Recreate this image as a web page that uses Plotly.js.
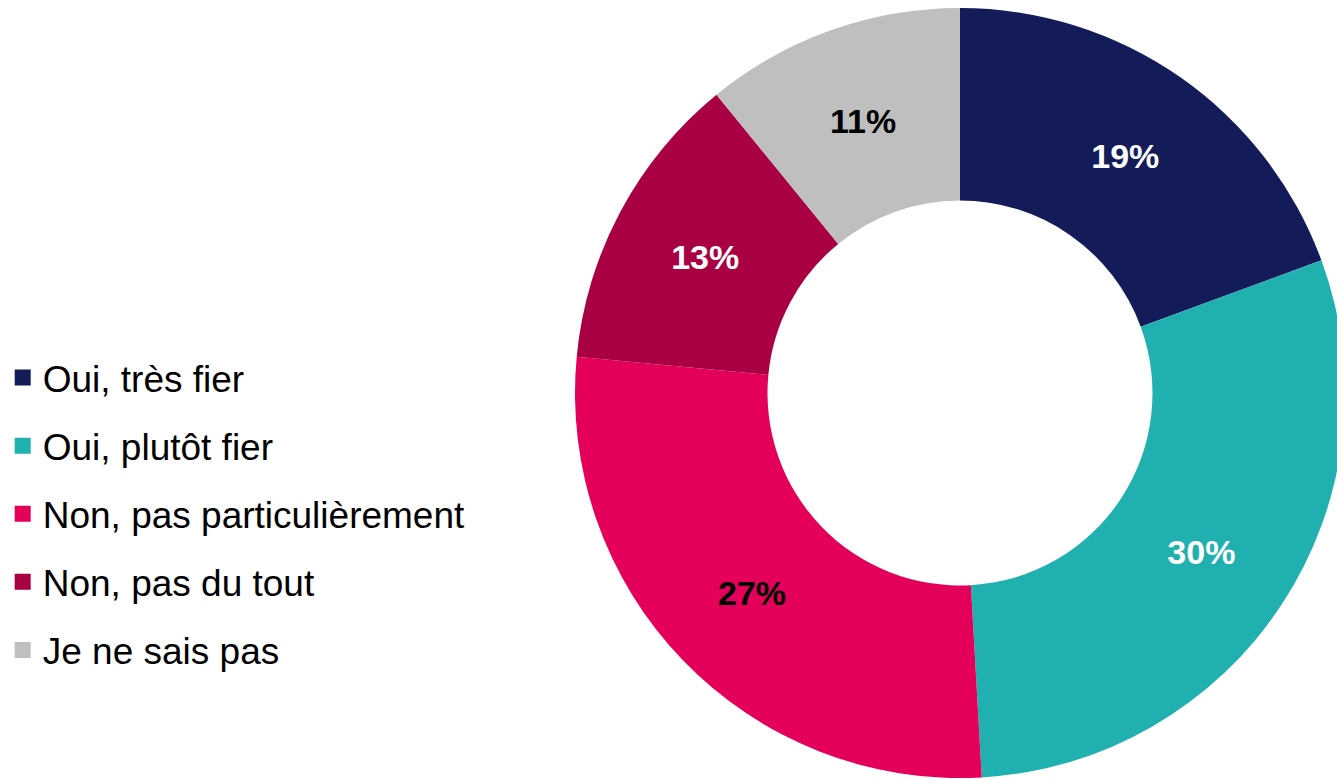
<!DOCTYPE html>
<html>
<head>
<meta charset="utf-8">
<script src="https://cdn.plot.ly/plotly-3.0.1.min.js"></script>
<style>
html,body{margin:0;padding:0;overflow:hidden;background:#fff;width:1337px;height:779px;}
#chart{width:1345px;height:779px;}
</style>
</head>
<body>
<div id="chart"></div>
<script>
const categories = ["Oui, très fier", "Oui, plutôt fier", "Non, pas particulièrement", "Non, pas du tout", "Je ne sais pas"];
// shares; labels show them rounded (19%, 30%, 27%, 13%, 11%)
const values = [19.4, 29.7, 27.4, 12.6, 10.9];
const colors = ["#131B59", "#1FB0AF", "#E4005A", "#A90044", "#BFBFBF"];
const labelColors = ["#FFFFFF", "#FFFFFF", "#000000", "#FFFFFF", "#000000"];

const W = 1345, H = 779;

const pie = {
  type: "pie",
  labels: categories,
  values: values,
  sort: false,
  direction: "clockwise",
  rotation: 0,
  hole: 0.5,
  marker: {colors: colors, line: {width: 0}},
  texttemplate: "%{percent:.0%}",
  textposition: "inside",
  insidetextorientation: "horizontal",
  textfont: {family: "Liberation Sans, Arial, sans-serif", size: 34, weight: "bold", color: labelColors},
  showlegend: false,
  domain: {x: [575 / W, 1], y: [1 - 778 / H, 1 - 8 / H]},
  hoverinfo: "label+percent"
};

const legendTraces = categories.map((c, i) => ({
  type: "scatter",
  mode: "markers",
  x: [null], y: [null],
  name: c,
  legendgroup: "g" + i,
  marker: {symbol: "square", size: 16, color: colors[i]},
  showlegend: true,
  hoverinfo: "skip"
}));

const layout = {
  width: W, height: H,
  margin: {l: 0, r: 0, t: 0, b: 0},
  paper_bgcolor: "#ffffff",
  plot_bgcolor: "#ffffff",
  xaxis: {visible: false},
  yaxis: {visible: false},
  showlegend: true,
  legend: {
    x: 0.002, xanchor: "left",
    y: 1 - 514 / H, yanchor: "middle",
    traceorder: "grouped",
    tracegroupgap: 17,
    font: {family: "Liberation Sans, Arial, sans-serif", size: 37, color: "#000000"},
    bgcolor: "rgba(0,0,0,0)",
    itemwidth: 30
  }
};

Plotly.newPlot("chart", [pie].concat(legendTraces), layout, {displayModeBar: false, staticPlot: true});
</script>
</body>
</html>
